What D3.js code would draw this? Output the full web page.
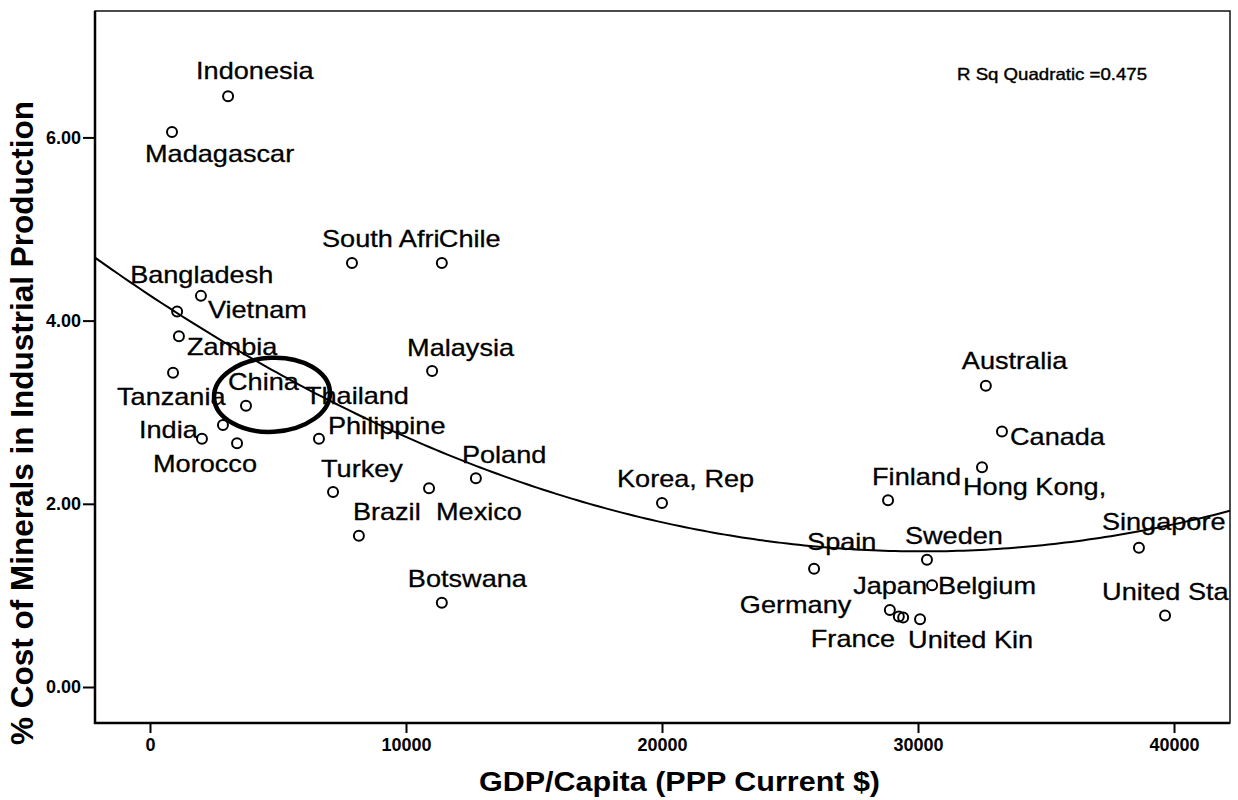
<!DOCTYPE html>
<html>
<head>
<meta charset="utf-8">
<script src="https://cdn.jsdelivr.net/npm/d3@7/dist/d3.min.js"></script>
<style>
  html, body { margin: 0; padding: 0; background: #fff; }
  svg { display: block; }
</style>
</head>
<body>
<svg id="chart" width="1238" height="800"></svg>
<script>
// ---------------- data ----------------
const countries = ["Indonesia","Madagascar","South Afri","Chile","Bangladesh","Vietnam","Zambia","Tanzania",
  "Malaysia","China","Thailand","India","Morocco","Philippine","Turkey","Mexico","Poland","Brazil","Botswana",
  "Korea, Rep","Australia","Canada","Hong Kong,","Finland","Spain","Sweden","Belgium","Germany","France","Japan",
  "United Kin","Singapore","United Sta"];
const gdpPerCapita = [3050, 860, 7890, 11400, 1060, 1990, 1130, 900,
  11020, 3750, 2850, 2030, 3400, 6600, 7150, 10900, 12730, 8160, 11400,
  20000, 32650, 33280, 32500, 28830, 25940, 30350, 30550, 28900, 29250, 29420,
  30080, 38630, 39650];
const mineralCost = [6.45, 6.06, 4.63, 4.63, 4.10, 4.27, 3.83, 3.43,
  3.45, 3.07, 2.86, 2.71, 2.66, 2.71, 2.13, 2.17, 2.28, 1.65, 0.92,
  2.01, 3.29, 2.79, 2.40, 2.04, 1.29, 1.39, 1.11, 0.84, 0.77, 0.76,
  0.74, 1.52, 0.78];
const xTicks = [0, 10000, 20000, 30000, 40000];
const yTicks = [0, 2, 4, 6];
const fitNote = "R Sq Quadratic =0.475";
const xTitle = "GDP/Capita (PPP Current $)";
const yTitle = "% Cost of Minerals in Industrial Production";

// label placement (pixel offsets of label start/baseline from the point)
const labelOffset = [[-32,-17],[-27,30],[-30,-16],[-3,-16],[-47,-28],[7,22],[8,19],[-56,32],
  [-25,-15],[-18,-16],[82,-21],[-63,-1],[-84,29],[9,-5],[-12,-15],[7,32],[-14,-15],[-6,-16],[-34,-16],
  [-45,-16],[-24,-17],[8,14],[-19,28],[-16,-15],[-7,-19],[-22,-16],[6,9],[-150,3],[-88,31],[-50,-23],
  [-12,29],[-37,-18],[-63,-16]];

// ---------------- layout ----------------
const plot = {left: 95, right: 1230, top: 11, bottom: 723};
const svg = d3.select("#chart");
const x = d3.scaleLinear().domain([-2148, 42187]).range([plot.left, plot.right]);
const y = d3.scaleLinear().domain([-0.393, 7.38]).range([plot.bottom, plot.top]);
const FONT = "'Liberation Sans', Arial, Helvetica, sans-serif";

svg.append("defs").append("clipPath").attr("id", "clip")
  .append("rect").attr("x", plot.left).attr("y", plot.top)
  .attr("width", plot.right - plot.left).attr("height", plot.bottom - plot.top);

// frame
svg.append("rect").attr("x", plot.left).attr("y", plot.top)
  .attr("width", plot.right - plot.left).attr("height", plot.bottom - plot.top)
  .attr("fill", "none").attr("stroke", "#111").attr("stroke-width", 1.5);
svg.append("line").attr("x1", plot.left).attr("x2", plot.left).attr("y1", plot.top).attr("y2", plot.bottom + 1)
  .attr("stroke", "#000").attr("stroke-width", 2.5);
svg.append("line").attr("x1", plot.left - 1).attr("x2", plot.right).attr("y1", plot.bottom).attr("y2", plot.bottom)
  .attr("stroke", "#000").attr("stroke-width", 2.5);

// axes
const xAxis = svg.append("g").attr("transform", `translate(0,${plot.bottom})`)
  .call(d3.axisBottom(x).tickValues(xTicks).tickSize(10).tickPadding(5).tickFormat(d3.format("d")));
const yAxis = svg.append("g").attr("transform", `translate(${plot.left},0)`)
  .call(d3.axisLeft(y).tickValues(yTicks).tickSize(12).tickPadding(2).tickFormat(d3.format(".2f")));
[xAxis, yAxis].forEach(g => {
  g.select(".domain").remove();
  g.selectAll(".tick line").attr("stroke", "#000").attr("stroke-width", 2);
  g.selectAll(".tick text").attr("fill", "#000").style("font-family", FONT)
    .style("font-size", "18px").style("font-weight", "bold");
});

// quadratic least-squares fit computed from the data
const pts = gdpPerCapita.map((g, i) => [g / 1000, mineralCost[i]]);
function quadFit(p) {
  let S = [0,0,0,0,0], T = [0,0,0];
  p.forEach(([u, v]) => {
    for (let k = 0; k < 5; k++) S[k] += Math.pow(u, k);
    for (let k = 0; k < 3; k++) T[k] += v * Math.pow(u, k);
  });
  const A = [[S[0],S[1],S[2],T[0]],[S[1],S[2],S[3],T[1]],[S[2],S[3],S[4],T[2]]];
  for (let i = 0; i < 3; i++) {
    for (let j = i + 1; j < 3; j++) {
      const f = A[j][i] / A[i][i];
      for (let k = i; k < 4; k++) A[j][k] -= f * A[i][k];
    }
  }
  const c = [0,0,0];
  for (let i = 2; i >= 0; i--) {
    let s = A[i][3];
    for (let k = i + 1; k < 3; k++) s -= A[i][k] * c[k];
    c[i] = s / A[i][i];
  }
  return c;
}
const coef = quadFit(pts);
const xs = d3.range(0, 201).map(i => x.domain()[0] + (x.domain()[1] - x.domain()[0]) * i / 200);
svg.append("path")
  .datum(xs)
  .attr("clip-path", "url(#clip)")
  .attr("fill", "none").attr("stroke", "#000").attr("stroke-width", 2)
  .attr("d", d3.line()
    .x(d => x(d))
    .y(d => { const u = d / 1000; return y(coef[0] + coef[1] * u + coef[2] * u * u); }));

// points
svg.append("g").selectAll("circle").data(countries).join("circle")
  .attr("cx", (d, i) => x(gdpPerCapita[i]))
  .attr("cy", (d, i) => y(mineralCost[i]))
  .attr("r", 5)
  .attr("fill", "none").attr("stroke", "#000").attr("stroke-width", 2);

// labels
svg.append("g").attr("clip-path", "url(#clip)").selectAll("text").data(countries).join("text")
  .attr("transform", (d, i) =>
    `translate(${x(gdpPerCapita[i]) + labelOffset[i][0]},${y(mineralCost[i]) + labelOffset[i][1]}) scale(1.13,1)`)
  .style("font-family", FONT).style("font-size", "24px").attr("fill", "#000")
  .attr("stroke", "#000").attr("stroke-width", 0.3)
  .text(d => d);

// China highlight ellipse
svg.append("ellipse")
  .attr("cx", x(4766)).attr("cy", y(3.19)).attr("rx", 58).attr("ry", 37)
  .attr("transform", `rotate(-3,${x(4766)},${y(3.19)})`)
  .attr("fill", "none").attr("stroke", "#000").attr("stroke-width", 4.5);

// fit note
svg.append("text")
  .attr("transform", `translate(957,80) scale(1.13,1)`)
  .style("font-family", FONT).style("font-size", "16.5px").attr("fill", "#000")
  .attr("stroke", "#000").attr("stroke-width", 0.4)
  .text(fitNote);

// axis titles
svg.append("text")
  .attr("transform", `translate(${(plot.left + plot.right) / 2 + 17},791) scale(1.13,1)`)
  .attr("text-anchor", "middle")
  .style("font-family", FONT).style("font-size", "27px").style("font-weight", "bold").attr("fill", "#000")
  .text(xTitle);
svg.append("text")
  .attr("transform", `translate(33,${(plot.top + plot.bottom) / 2 + 56}) rotate(-90)`)
  .attr("text-anchor", "middle")
  .style("font-family", FONT).style("font-size", "31.5px").style("font-weight", "bold").attr("fill", "#000")
  .text(yTitle);
</script>
</body>
</html>
